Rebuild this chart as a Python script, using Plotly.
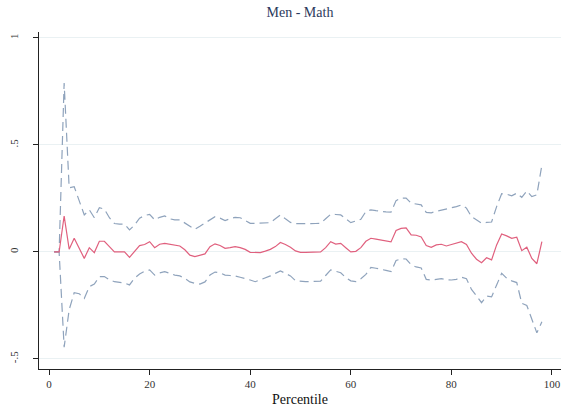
import plotly.graph_objects as go

percentile = list(range(1, 99))

estimate = [0, 0, 0.168, 0.013, 0.064, 0.02, -0.03, 0.02, -0.003, 0.05,
            0.05, 0.025, 0.0, 0.0, 0.0, -0.025, 0.0, 0.03, 0.035, 0.048,
            0.02, 0.036, 0.04, 0.035, 0.03, 0.028, 0.01, -0.015, -0.022, -0.015,
            -0.009, 0.025, 0.038, 0.03, 0.017, 0.02, 0.025, 0.02, 0.012, -0.002,
            -0.003, -0.003, 0.004, 0.012, 0.025, 0.044, 0.035, 0.022, 0.005, -0.002,
            -0.002, -0.002, -0.001, 0.0, 0.02, 0.048, 0.037, 0.04, 0.02, 0.0,
            0.003, 0.02, 0.05, 0.064, 0.06, 0.056, 0.052, 0.047, 0.1, 0.11,
            0.112, 0.08, 0.078, 0.07, 0.03, 0.022, 0.033, 0.036, 0.028, 0.035,
            0.042, 0.048, 0.035, -0.006, -0.034, -0.05, -0.027, -0.037, 0.033, 0.084,
            0.075, 0.064, 0.069, 0.006, 0.022, -0.03, -0.055, 0.048]

upper = [0, 0, 0.79, 0.30, 0.305, 0.24, 0.173, 0.197, 0.16, 0.207,
         0.2, 0.16, 0.133, 0.13, 0.13, 0.103, 0.126, 0.158, 0.17, 0.176,
         0.15, 0.162, 0.168, 0.155, 0.15, 0.15, 0.135, 0.118, 0.106, 0.12,
         0.134, 0.152, 0.165, 0.158, 0.147, 0.155, 0.162, 0.16, 0.145, 0.134,
         0.134, 0.134, 0.136, 0.137, 0.155, 0.173, 0.155, 0.138, 0.132, 0.131,
         0.131, 0.132, 0.133, 0.134, 0.155, 0.176, 0.175, 0.173, 0.155, 0.137,
         0.145, 0.153, 0.189, 0.197, 0.193, 0.189, 0.187, 0.186, 0.24, 0.252,
         0.252, 0.228, 0.223, 0.22, 0.185, 0.183, 0.19, 0.195, 0.2, 0.205,
         0.212, 0.22, 0.205, 0.165, 0.15, 0.135, 0.138, 0.14, 0.212, 0.272,
         0.27, 0.262, 0.275, 0.255, 0.285, 0.259, 0.267, 0.407]

lower = [0, 0, -0.445, -0.27, -0.19, -0.195, -0.217, -0.162, -0.15, -0.115,
         -0.115, -0.13, -0.139, -0.142, -0.145, -0.154, -0.123, -0.103, -0.09, -0.084,
         -0.108, -0.098, -0.092, -0.1, -0.108, -0.112, -0.123, -0.14, -0.147, -0.15,
         -0.14, -0.108, -0.094, -0.098, -0.108, -0.11, -0.112, -0.118, -0.123, -0.131,
         -0.139, -0.131, -0.123, -0.112, -0.1, -0.089, -0.1, -0.112, -0.134, -0.138,
         -0.139, -0.138, -0.137, -0.136, -0.11, -0.084, -0.09, -0.097, -0.12, -0.135,
         -0.139, -0.125, -0.105, -0.072, -0.076, -0.08, -0.086, -0.092, -0.04, -0.032,
         -0.033, -0.06, -0.07, -0.075, -0.128, -0.131, -0.127, -0.125, -0.13, -0.131,
         -0.128, -0.118, -0.125, -0.175, -0.205, -0.237, -0.206, -0.21, -0.154, -0.1,
         -0.123, -0.135, -0.143, -0.24, -0.25, -0.318, -0.378, -0.326]

x_ticks = [0, 20, 40, 60, 80, 100]
y_ticks = [-0.5, 0, 0.5, 1]
y_ticktext = ["-.5", "0", ".5", "1"]

SERIF = "Liberation Serif, DejaVu Serif, serif"
ci_color = "#8fa3bc"
est_color = "#e0607e"

fig = go.Figure()
fig.add_trace(go.Scatter(x=percentile, y=upper, mode="lines",
                         line=dict(color=ci_color, width=1.2, dash="9px,5px"),
                         showlegend=False))
fig.add_trace(go.Scatter(x=percentile, y=lower, mode="lines",
                         line=dict(color=ci_color, width=1.2, dash="9px,5px"),
                         showlegend=False))
fig.add_trace(go.Scatter(x=percentile, y=estimate, mode="lines",
                         line=dict(color=est_color, width=1.2),
                         showlegend=False))

fig.update_layout(
    width=562, height=409,
    margin=dict(l=39, r=1, t=32, b=40),
    paper_bgcolor="white", plot_bgcolor="white",
    font=dict(family=SERIF, color="#222222"),
    title=dict(text="Men - Math", x=0.5, xref="paper", xanchor="center",
               y=1 - 12 / 409, yref="container", yanchor="middle",
               font=dict(family=SERIF, size=14, color="#2b3a5c")),
    xaxis=dict(range=[-2, 101.8], tickvals=x_ticks, ticks="outside", ticklen=5,
               tickcolor="#222", showline=True, linecolor="#222", linewidth=1,
               showgrid=False, zeroline=False, tickfont=dict(size=11, color="#333"),
               title=dict(text="Percentile", font=dict(size=14, color="#111"), standoff=4)),
    yaxis=dict(range=[-0.547, 1.028], tickvals=y_ticks, ticktext=y_ticktext,
               ticks="outside", ticklen=5, tickcolor="#222", tickangle=-90,
               showline=True, linecolor="#222", linewidth=1,
               showgrid=True, gridcolor="#eaf1f3", gridwidth=1.2, zeroline=False,
               tickfont=dict(size=11, color="#333"), ticklabelstandoff=11),
)

fig.write_html("out.html",
               config={"displayModeBar": False},
               post_script="document.body.style.margin='0';document.body.style.padding='0';")
